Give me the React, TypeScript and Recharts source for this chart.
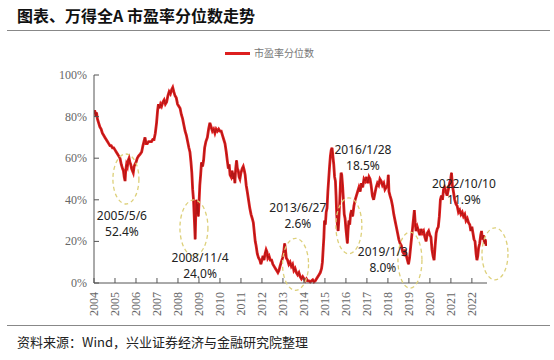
import { LineChart, Line, XAxis, YAxis, ReferenceDot } from 'recharts';

// time in decimal years, value = PE percentile (%)
const years = [
  2004.0, 2004.03, 2004.06, 2004.09, 2004.12, 2004.16, 2004.22, 2004.28, 2004.34, 2004.4, 2004.46, 2004.52, 2004.58, 2004.64, 2004.7, 2004.76, 2004.82, 2004.88, 2004.94,
  2005.0, 2005.06, 2005.12, 2005.18, 2005.24, 2005.3, 2005.36, 2005.4, 2005.44, 2005.48, 2005.51, 2005.55, 2005.59, 2005.63, 2005.67, 2005.71, 2005.75, 2005.79, 2005.83, 2005.87, 2005.91, 2005.95,
  2006.0, 2006.06, 2006.12, 2006.2, 2006.27, 2006.33, 2006.38, 2006.43, 2006.48, 2006.54, 2006.6, 2006.67, 2006.74, 2006.8, 2006.86, 2006.92, 2006.98,
  2007.03, 2007.07, 2007.12, 2007.17, 2007.22, 2007.28, 2007.34, 2007.4, 2007.46, 2007.52, 2007.58, 2007.64, 2007.7, 2007.75, 2007.8, 2007.86, 2007.92, 2007.98,
  2008.04, 2008.1, 2008.16, 2008.22, 2008.28, 2008.34, 2008.4, 2008.46, 2008.52, 2008.57, 2008.62, 2008.66, 2008.7, 2008.74, 2008.77, 2008.8, 2008.82, 2008.85, 2008.88, 2008.91, 2008.94, 2008.97,
  2009.0, 2009.04, 2009.08, 2009.12, 2009.17, 2009.22, 2009.27, 2009.33, 2009.4, 2009.46, 2009.52, 2009.58, 2009.64, 2009.7, 2009.76, 2009.82, 2009.88, 2009.94,
  2010.0, 2010.06, 2010.12, 2010.18, 2010.24, 2010.3, 2010.36, 2010.4, 2010.44, 2010.48, 2010.53, 2010.58, 2010.63, 2010.67, 2010.71, 2010.75, 2010.79, 2010.83, 2010.87, 2010.91, 2010.95,
  2011.0, 2011.06, 2011.11, 2011.16, 2011.2, 2011.25, 2011.3, 2011.36, 2011.42, 2011.48, 2011.54, 2011.59, 2011.64, 2011.68, 2011.72, 2011.78, 2011.84, 2011.9, 2011.95,
  2012.0, 2012.05, 2012.1, 2012.15, 2012.2, 2012.24, 2012.28, 2012.34, 2012.4, 2012.46, 2012.52, 2012.58, 2012.64, 2012.7, 2012.76, 2012.81, 2012.86, 2012.92, 2012.98,
  2013.04, 2013.08, 2013.12, 2013.16, 2013.22, 2013.28, 2013.34, 2013.4, 2013.46, 2013.52, 2013.58, 2013.64, 2013.7, 2013.76, 2013.82, 2013.88, 2013.94,
  2014.0, 2014.06, 2014.12, 2014.18, 2014.24, 2014.3, 2014.36, 2014.42, 2014.48, 2014.54, 2014.6, 2014.66, 2014.72, 2014.78, 2014.84, 2014.88, 2014.92, 2014.95, 2014.98,
  2015.02, 2015.06, 2015.1, 2015.14, 2015.18, 2015.22, 2015.26, 2015.3, 2015.34, 2015.38, 2015.42, 2015.46, 2015.5, 2015.53, 2015.56, 2015.6, 2015.63, 2015.66, 2015.7, 2015.74, 2015.77, 2015.8, 2015.84, 2015.88, 2015.92, 2015.96,
  2016.0, 2016.04, 2016.07, 2016.1, 2016.14, 2016.18, 2016.22, 2016.27, 2016.32, 2016.38, 2016.44, 2016.5, 2016.56, 2016.62, 2016.68, 2016.74, 2016.8, 2016.86, 2016.92, 2016.98,
  2017.04, 2017.1, 2017.15, 2017.2, 2017.26, 2017.32, 2017.38, 2017.44, 2017.5, 2017.56, 2017.62, 2017.68, 2017.74, 2017.8, 2017.86, 2017.92, 2017.98,
  2018.02, 2018.05, 2018.1, 2018.16, 2018.22, 2018.28, 2018.34, 2018.4, 2018.46, 2018.52, 2018.58, 2018.64, 2018.7, 2018.76, 2018.82, 2018.88, 2018.93, 2018.98,
  2019.03, 2019.08, 2019.13, 2019.18, 2019.22, 2019.26, 2019.3, 2019.34, 2019.4, 2019.46, 2019.52, 2019.58, 2019.64, 2019.7, 2019.76, 2019.82, 2019.88, 2019.94,
  2020.0, 2020.05, 2020.1, 2020.15, 2020.2, 2020.25, 2020.3, 2020.35, 2020.4, 2020.45, 2020.5, 2020.55, 2020.6, 2020.65, 2020.7, 2020.76, 2020.82, 2020.88, 2020.94, 2020.99,
  2021.03, 2021.07, 2021.12, 2021.18, 2021.24, 2021.3, 2021.36, 2021.42, 2021.48, 2021.54, 2021.6, 2021.66, 2021.72, 2021.78, 2021.84, 2021.9, 2021.95,
  2022.0, 2022.05, 2022.1, 2022.15, 2022.2, 2022.24, 2022.28, 2022.32, 2022.37, 2022.42, 2022.46, 2022.5, 2022.55, 2022.6, 2022.64, 2022.68, 2022.71,
];

const pePct = [
  81, 83, 82, 80, 82, 79, 77, 75, 74, 72, 71, 70, 69, 68, 67, 66, 66, 65, 65,
  64, 63, 62, 61, 60, 57, 55, 54, 51, 49, 54, 57, 56, 59, 60, 58, 57, 55, 54, 53, 56, 57,
  58, 60, 61, 62, 63, 66, 68, 70, 67, 67, 68, 68, 68, 69, 69, 72, 77,
  83, 86, 84, 86, 85, 87, 88, 86, 87, 90, 92, 91, 93, 94, 92, 90, 89, 86,
  85, 84, 81, 79, 76, 73, 71, 68, 65, 63, 58, 53, 45, 40, 33, 26, 21, 34, 40, 33, 38, 32,
  38, 47, 52, 58, 56, 59, 65, 68, 70, 74, 77, 75, 73, 74, 72, 74, 73, 74,
  73, 73, 71, 69, 67, 63, 58, 55, 57, 52, 51, 54, 50, 53, 48, 55, 59, 55, 54, 51, 50,
  53, 55, 56, 54, 52, 47, 44, 40, 36, 33, 31, 29, 24, 20, 18, 14, 12, 11, 9,
  11, 13, 11, 14, 16, 15, 12, 13, 11, 11, 9, 8, 7, 6, 5, 6, 8, 10, 12,
  15, 19, 16, 12, 11, 9, 10, 8, 9, 6, 7, 5, 4, 5, 3, 2, 3,
  2, 1, 2, 1, 1, 0.5, 1, 1.5, 0.5, 1, 2, 3, 4, 5, 7, 10, 17, 22, 30,
  28, 34, 36, 44, 50, 56, 61, 64, 65, 61, 57, 51, 49, 42, 33, 27, 25, 30, 38, 48, 53, 52, 47, 40, 33, 31,
  26, 22, 19, 25, 30, 28, 33, 35, 32, 37, 40, 42, 44, 46, 44, 48, 46, 50, 49, 51,
  48, 51, 50, 47, 42, 40, 43, 46, 48, 47, 50, 49, 47, 48, 45, 46, 47,
  52, 44, 42, 40, 37, 33, 30, 27, 24, 21, 19, 18, 15, 14, 16, 13, 11, 9,
  12, 17, 22, 27, 31, 35, 29, 25, 27, 25, 23, 26, 24, 25, 22, 20, 24, 25,
  23, 22, 16, 13, 11, 18, 24, 26, 27, 32, 40, 42, 40, 45, 46, 44, 42, 45, 48, 50,
  53, 47, 44, 40, 38, 37, 34, 35, 33, 34, 32, 33, 30, 31, 29, 28, 25,
  27, 24, 21, 20, 14, 11, 13, 17, 19, 23, 25, 21, 23, 19, 21, 18, 19,
];

const yearTicks = [2004, 2005, 2006, 2007, 2008, 2009, 2010, 2011, 2012, 2013, 2014, 2015, 2016, 2017, 2018, 2019, 2020, 2021, 2022];
const pctTicks = [0, 20, 40, 60, 80, 100];

// dashed circles around the lows (centre in data units, radii in px)
const circles = [
  { x: 2005.52, y: 50, rx: 13, ry: 25 },
  { x: 2008.76, y: 26.5, rx: 14, ry: 28 },
  { x: 2013.6, y: 9, rx: 13, ry: 26 },
  { x: 2016.14, y: 27.5, rx: 13, ry: 28 },
  { x: 2019.05, y: 11, rx: 12, ry: 28 },
  { x: 2023.1, y: 14, rx: 13, ry: 26 },
];

const notes = [
  { x: 2005.33, y: 32.2, date: '2005/5/6', pct: '52.4%' },
  { x: 2009.05, y: 12, date: '2008/11/4', pct: '24.0%' },
  { x: 2013.71, y: 36, date: '2013/6/27', pct: '2.6%' },
  { x: 2016.81, y: 64, date: '2016/1/28', pct: '18.5%' },
  { x: 2017.76, y: 14.9, date: '2019/1/3', pct: '8.0%' },
  { x: 2021.62, y: 47.6, date: '2022/10/10', pct: '11.9%' },
];

const data = years.map((t, i) => ({ t, v: pePct[i] }));

const RED = '#dd1f1f';
const AXIS = '#555';

function XTick(props: any) {
  const { x, y, payload } = props;
  return (
    <g>
      <line x1={x} y1={y} x2={x} y2={y - 5} stroke={AXIS} />
      <text
        x={x + 4}
        y={y + 9}
        transform={`rotate(-90 ${x + 4} ${y + 9})`}
        textAnchor="end"
        fontSize={12}
        fill="#666"
        fontFamily="'Liberation Serif', serif"
      >
        {payload.value}
      </text>
    </g>
  );
}

function YTick(props: any) {
  const { x, y, payload } = props;
  return (
    <g>
      <line x1={x} y1={y} x2={x + 5} y2={y} stroke={AXIS} />
      <text x={x - 7} y={y + 4} textAnchor="end" fontSize={12} fill="#666" fontFamily="'Liberation Serif', serif">
        {payload.value}%
      </text>
    </g>
  );
}

export default function App() {
  return (
    <div style={{ position: 'absolute', left: 0, top: 0, width: 554, height: 360, background: '#fff', fontFamily: "'Noto Sans CJK SC', sans-serif" }}>
      <div style={{ position: 'absolute', left: 17, top: 5, fontSize: 16, fontWeight: 700, color: '#111', lineHeight: '20px' }}>
        图表、万得全A 市盈率分位数走势
      </div>
      <div style={{ position: 'absolute', left: 7, top: 30, width: 543, borderTop: '1.5px solid #888' }} />

      <div style={{ position: 'absolute', left: 225, top: 52, width: 25, height: 3, background: RED }} />
      <div style={{ position: 'absolute', left: 254, top: 46, fontSize: 10, color: '#777', lineHeight: '14px' }}>市盈率分位数</div>

      <div style={{ position: 'absolute', left: 0, top: 0 }}>
        <LineChart width={554} height={360} data={data} margin={{ top: 75, right: 67, bottom: 37, left: 54 }}>
          <XAxis
            dataKey="t"
            type="number"
            domain={[2004, 2022.72]}
            ticks={yearTicks}
            interval={0}
            allowDataOverflow
            height={40}
            tickSize={0}
            tickMargin={0}
            tickLine={false}
            axisLine={{ stroke: AXIS }}
            tick={<XTick />}
          />
          <YAxis
            type="number"
            domain={[0, 100]}
            ticks={pctTicks}
            width={40}
            tickSize={0}
            tickMargin={0}
            tickLine={false}
            axisLine={{ stroke: AXIS }}
            tick={<YTick />}
          />
          <Line dataKey="v" stroke={RED} strokeWidth={2.8} strokeLinejoin="miter" dot={false} isAnimationActive={false} />
          <Line dataKey="v" stroke="#a51414" strokeWidth={0.8} dot={false} isAnimationActive={false} />
          {circles.map((c, i) => (
            <ReferenceDot
              key={'c' + i}
              x={c.x}
              y={c.y}
              ifOverflow="visible"
              shape={(p: any) => (
                <ellipse cx={p.cx} cy={p.cy} rx={c.rx} ry={c.ry} fill="none" stroke="#ddd07a" strokeWidth={1.3} strokeDasharray="4 3" />
              )}
            />
          ))}
          {notes.map((n, i) => (
            <ReferenceDot
              key={'n' + i}
              x={n.x}
              y={n.y}
              ifOverflow="visible"
              shape={(p: any) => (
                <text x={p.cx} y={p.cy + 4} textAnchor="middle" fontSize={12} fill="#222" fontFamily="'Noto Sans', sans-serif">
                  <tspan x={p.cx} dy={0}>{n.date}</tspan>
                  <tspan x={p.cx} dy={16}>{n.pct}</tspan>
                </text>
              )}
            />
          ))}
        </LineChart>
      </div>

      <div style={{ position: 'absolute', left: 7, top: 325, width: 543, borderTop: '1.5px solid #888' }} />
      <div style={{ position: 'absolute', left: 17, top: 334, fontSize: 13, color: '#222', lineHeight: '16px' }}>
        资料来源：Wind，兴业证券经济与金融研究院整理
      </div>
    </div>
  );
}
